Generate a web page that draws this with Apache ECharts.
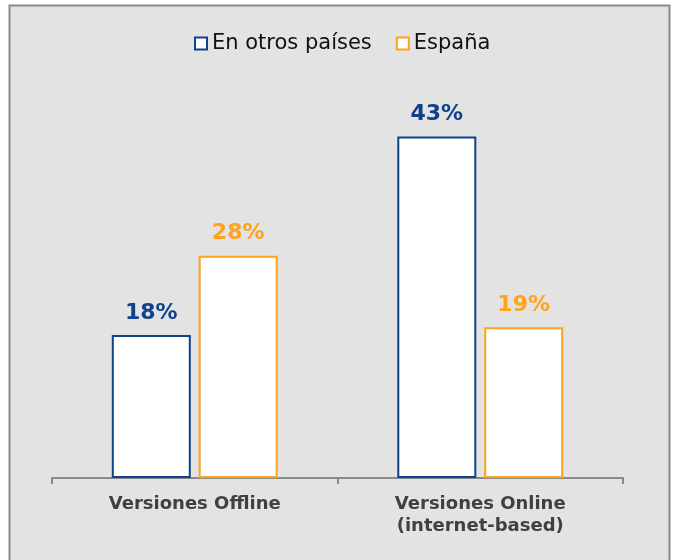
<!DOCTYPE html>
<html><head><meta charset="utf-8">
<script src="https://cdn.jsdelivr.net/npm/echarts@6/dist/echarts.min.js"></script>
<style>html,body{margin:0;padding:0;background:#fff;}#c{width:676px;height:560px;}</style>
</head><body><div id="c"></div>
<script>
var categories = ['Versiones Offline', 'Versiones Online\n(internet-based)'];
var seriesNames = ['En otros países', 'España'];
var otrosValues = [18, 43];
var espanaValues = [28, 19];
var navy = '#0f428a', orange = '#ffa31a';
var FF = 'DejaVu Sans';
var chart = echarts.init(document.getElementById('c'));
function mk(name, data, color){
  return {
    name: name, type: 'bar', data: data, barWidth: 79, barGap: '10%',
    itemStyle: {color: '#ffffff', borderColor: color, borderWidth: 2},
    label: {show: true, position: 'top', distance: 11, formatter: '{c}%', color: color,
      fontFamily: FF, fontWeight: 'bold', fontSize: 22}
  };
}
chart.setOption({
  backgroundColor: '#ffffff',
  animation: false,
  graphic: [{type: 'rect', shape: {x: 9.5, y: 5.5, width: 660, height: 570},
    style: {fill: '#e3e3e3', stroke: '#8a8a8a', lineWidth: 2}, z: -10}],
  legend: {top: 28, left: 189, itemWidth: 12, itemHeight: 12, itemGap: 24,
    icon: 'rect',
    textStyle: {fontFamily: FF, fontSize: 21, color: '#111'},
    data: seriesNames},
  grid: {left: 52, right: 53, top: 81, bottom: 82},
  xAxis: {type: 'category', data: categories,
    axisLine: {lineStyle: {color: '#8a8a8a', width: 2}},
    axisTick: {show: true, length: 6, lineStyle: {color: '#8a8a8a', width: 2}},
    axisLabel: {fontFamily: FF, fontWeight: 'bold', fontSize: 18, color: '#404040',
      margin: 15, lineHeight: 22}},
  yAxis: {type: 'value', min: 0, max: 50, show: false, splitLine: {show: false}},
  series: [mk(seriesNames[0], otrosValues, navy), mk(seriesNames[1], espanaValues, orange)]
});
</script></body></html>
